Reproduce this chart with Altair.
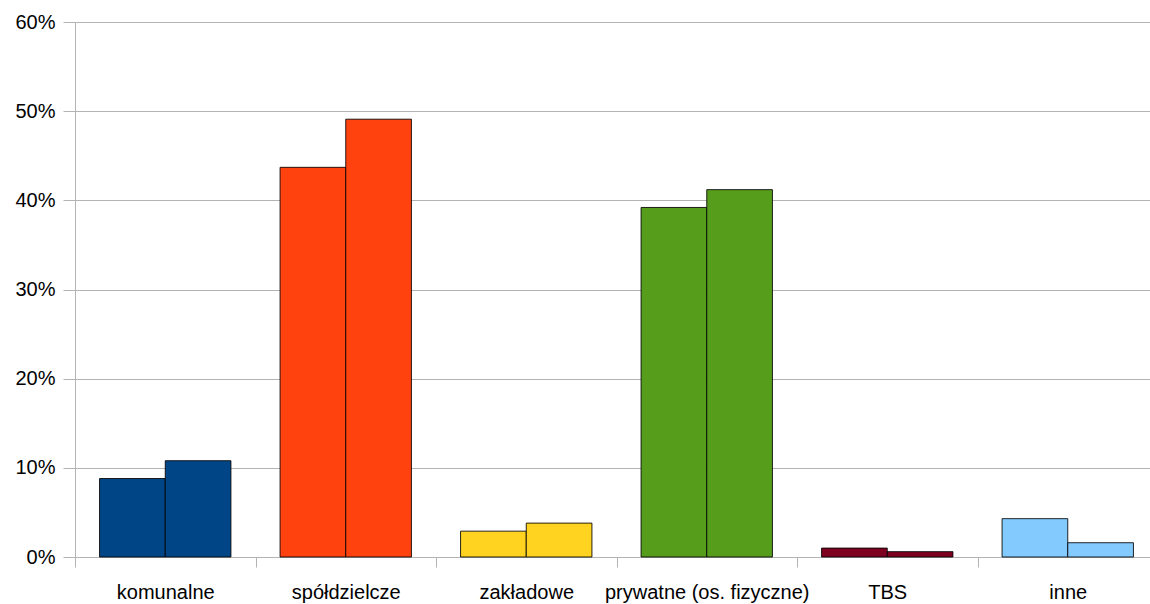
import altair as alt
import pandas as pd

categories = ["komunalne", "spółdzielcze", "zakładowe", "prywatne (os. fizyczne)", "TBS", "inne"]
series_a = [8.8, 43.7, 2.9, 39.2, 1.0, 4.3]
series_b = [10.8, 49.1, 3.8, 41.2, 0.6, 1.6]
colors = ["#004586", "#ff420e", "#ffd320", "#579d1c", "#7e0021", "#83caff"]
y_ticks = [0, 10, 20, 30, 40, 50, 60]

rows = []
for c, a, b in zip(categories, series_a, series_b):
    rows.append({"kategoria": c, "seria": "A", "wartosc": a / 100})
    rows.append({"kategoria": c, "seria": "B", "wartosc": b / 100})
df = pd.DataFrame(rows)

FONT = "Liberation Sans"
GRID = "#b3b3b3"

chart = (
    alt.Chart(df)
    .mark_bar(stroke="#000000", strokeWidth=1, strokeOpacity=0.85)
    .encode(
        x=alt.X(
            "kategoria:N",
            sort=categories,
            title=None,
            scale=alt.Scale(paddingInner=0, paddingOuter=0, range=[0, 1083]),
            axis=alt.Axis(
                tickBand="extent",
                tickSize=10,
                tickColor=GRID,
                domainColor=GRID,
                labelAngle=0,
                labelFont=FONT,
                labelFontSize=20,
                labelColor="#000000",
                labelPadding=15,
                labelLimit=0,
                grid=False,
            ),
        ),
        xOffset=alt.XOffset(
            "seria:N",
            scale=alt.Scale(paddingInner=0, paddingOuter=0.374),
        ),
        y=alt.Y(
            "wartosc:Q",
            title=None,
            scale=alt.Scale(domain=[0, 0.6], nice=False),
            axis=alt.Axis(
                values=[v / 100 for v in y_ticks],
                format=".0%",
                tickSize=12,
                tickColor=GRID,
                domainColor=GRID,
                gridColor=GRID,
                labelFont=FONT,
                labelFontSize=20,
                labelColor="#000000",
                labelPadding=8,
            ),
        ),
        color=alt.Color(
            "kategoria:N",
            sort=categories,
            scale=alt.Scale(domain=categories, range=colors),
            legend=None,
        ),
    )
    .properties(
        width=1075,
        height=535,
        autosize=alt.AutoSizeParams(type="none"),
        padding={"left": 75, "top": 22, "right": 0, "bottom": 47},
    )
    .configure_view(stroke=None)
    .configure(background="#ffffff")
)

chart.save("out.html", embed_options={"renderer": "svg", "actions": False})
